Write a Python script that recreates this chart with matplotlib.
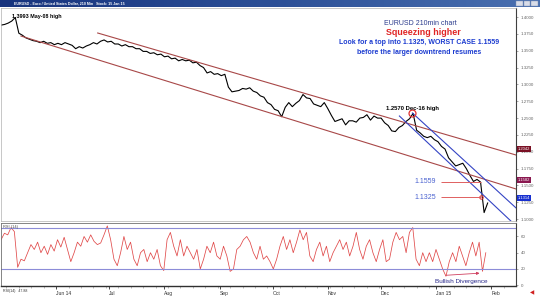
import numpy as np
import matplotlib.pyplot as plt
from matplotlib.colors import LinearSegmentedColormap

plt.rcParams['font.family'] = ['Liberation Sans', 'DejaVu Sans']

# EURUSD closes, one value every 2 calendar days from 1 May 2014
price_step = 2.0
price = [1.388, 1.389, 1.391, 1.394, 1.3993, 1.376, 1.373, 1.369, 1.367, 1.365,
         1.364, 1.362, 1.364, 1.361, 1.362, 1.359, 1.361, 1.359, 1.362, 1.360,
         1.358, 1.353, 1.356, 1.354, 1.357, 1.359, 1.362, 1.360, 1.364, 1.366,
         1.363, 1.364, 1.360, 1.360, 1.357, 1.359, 1.356, 1.356, 1.353, 1.353,
         1.349, 1.349, 1.346, 1.347, 1.344, 1.345, 1.341, 1.342, 1.338, 1.339,
         1.335, 1.337, 1.335, 1.336, 1.332, 1.333, 1.328, 1.325, 1.317, 1.319,
         1.315, 1.316, 1.313, 1.315, 1.296, 1.289, 1.290, 1.291, 1.294, 1.293,
         1.295, 1.290, 1.288, 1.283, 1.281, 1.273, 1.270, 1.263, 1.261, 1.252,
         1.266, 1.273, 1.267, 1.272, 1.276, 1.285, 1.280, 1.279, 1.271, 1.269,
         1.267, 1.273, 1.264, 1.254, 1.245, 1.247, 1.249, 1.240, 1.246, 1.246,
         1.244, 1.250, 1.251, 1.255, 1.247, 1.253, 1.250, 1.250, 1.243, 1.239,
         1.231, 1.230, 1.236, 1.239, 1.245, 1.249, 1.257, 1.232, 1.228, 1.223,
         1.221, 1.223, 1.218, 1.215, 1.208, 1.204, 1.191, 1.185, 1.179, 1.181,
         1.183, 1.175, 1.165, 1.156, 1.159, 1.155, 1.1098, 1.124]

# RSI(14), one value every ~1.87 days
rsi_step = 1.8695
rsi = [56, 64, 62, 71, 66, 22, 32, 30, 40, 50, 44, 53, 40, 48, 38, 50, 42, 56, 47, 59,
       44, 29, 40, 53, 48, 60, 53, 62, 54, 50, 52, 62, 73, 56, 32, 24, 40, 60, 44, 53,
       32, 24, 40, 44, 29, 40, 32, 44, 24, 18, 56, 65, 48, 36, 56, 36, 48, 40, 32, 44,
       20, 32, 48, 40, 53, 36, 32, 48, 36, 17, 20, 44, 48, 56, 60, 53, 40, 32, 48, 32,
       36, 29, 20, 32, 48, 60, 44, 56, 40, 53, 68, 56, 65, 36, 29, 44, 53, 36, 48, 29,
       40, 48, 56, 44, 53, 36, 48, 65, 44, 32, 48, 56, 40, 29, 44, 56, 29, 32, 53, 65,
       56, 60, 40, 65, 71, 32, 24, 40, 29, 40, 29, 44, 32, 20, 11, 29, 40, 29, 48, 36,
       24, 40, 53, 36, 53, 17, 40]

month_days = [31, 61, 92, 123, 153, 184, 214, 245, 276]
month_labels = ['Jun 14', 'Jul', 'Aug', 'Sep', 'Oct', 'Nov', 'Dec', 'Jan 15', 'Feb']
price_ticks = [1.4000, 1.3750, 1.3500, 1.3250, 1.3000, 1.2750, 1.2500,
               1.2250, 1.2000, 1.1750, 1.1500, 1.1250, 1.1000]
rsi_ticks = [0, 20, 40, 60]

# trendlines: (day, price) end points
upper_channel = [(54.4, 1.3763), (290, 1.1952)]
lower_channel = [(11.2, 1.3718), (290, 1.1448)]
blue_a = [(224.3, 1.2531), (290, 1.0900)]
blue_b = [(231.6, 1.2576), (290, 1.1166)]
dec_high = (231.6, 1.2570)
target_1 = 1.1559
target_2 = 1.1325
right_tags = [(1.2042, '#7a1024'), (1.1582, '#8a1850'), (1.1314, '#1830d0')]

x_price = np.arange(len(price)) * price_step
x_rsi = np.arange(len(rsi)) * rsi_step
x_max = 290

W, H = 540, 298
fig = plt.figure(figsize=(W / 100, H / 100), dpi=100)
fig.patch.set_facecolor('white')

# window title bar
bar = fig.add_axes([0, 1 - 7 / H, 1, 7 / H])
cmap = LinearSegmentedColormap.from_list('bar', ['#17337d', '#2c4f96', '#4a70b0'])
bar.imshow(np.linspace(0, 1, 256).reshape(1, -1), aspect='auto', cmap=cmap,
           extent=[0, 1, 0, 1])
bar.text(0.025, 0.5, 'EURUSD - Euro / United States Dollar, 210 Min   Stock: 15 Jan 15',
         color='white', fontsize=2.6, va='center', fontweight='bold')
for i in range(3):
    bar.add_patch(plt.Rectangle((0.956 + i * 0.014, 0.12), 0.012, 0.76,
                                facecolor='#d8dce8', edgecolor='#8090b0', lw=0.3))
bar.set_xlim(0, 1)
bar.set_ylim(0, 1)
bar.axis('off')

# main price panel
ax = fig.add_axes([0.002, 1 - 221 / H, 515 / W, 213 / H])
ax.plot(x_price, price, color='black', lw=0.8)
for line, c in [(upper_channel, '#a84848'), (lower_channel, '#a84848'),
                (blue_a, '#3444c4'), (blue_b, '#3444c4')]:
    ax.plot([line[0][0], line[1][0]], [line[0][1], line[1][1]], color=c, lw=0.8)

ax.plot(*dec_high, 'o', ms=5, mfc='none', mec='#e03030', mew=0.9)
ax.plot(270.5, target_2, 'o', ms=2.5, mfc='none', mec='#e03030', mew=0.7)
ax.hlines([target_1, target_2], 248, 270, color='#e06060', lw=0.7)
ax.text(245, target_1, '1.1559', color='#4a62d0', fontsize=5, ha='right', va='center')
ax.text(245, target_2, '1.1325', color='#4a62d0', fontsize=5, ha='right', va='center')
ax.text(dec_high[0], dec_high[1] + 0.004, '1.2570 Dec-16 high', fontsize=4.2,
        ha='center', va='bottom', fontweight='bold')
ax.text(6.0, 1.4015, '1.3993 May-08 high', fontsize=3.9, ha='left', va='center',
        fontweight='bold')

ax.text(0.814, 0.925, 'EURUSD 210min chart', transform=ax.transAxes, fontsize=5,
        color='#2a3a8c', ha='center', va='center')
ax.text(0.82, 0.883, 'Squeezing higher', transform=ax.transAxes, fontsize=6.4,
        color='#e02424', ha='center', va='center', fontweight='bold')
ax.text(0.812, 0.836, 'Look for a top into 1.1325, WORST CASE 1.1559',
        transform=ax.transAxes, fontsize=5, color='#1c3cd0', ha='center',
        va='center', fontweight='bold')
ax.text(0.812, 0.793, 'before the larger downtrend resumes', transform=ax.transAxes,
        fontsize=5, color='#1c3cd0', ha='center', va='center', fontweight='bold')

ax.set_xlim(0, x_max)
ax.set_ylim(1.0973, 1.4134)
ax.yaxis.tick_right()
ax.set_yticks(price_ticks)
ax.set_yticklabels([f'{t:.4f}' for t in price_ticks], fontsize=3.2, color='#555555')
ax.tick_params(axis='y', length=1.5, width=0.4, pad=2, colors='#666666')
ax.set_xticks([])
for tag_price, tag_color in right_tags:
    ax.text(1.003, (tag_price - 1.0973) / (1.4134 - 1.0973), f'{tag_price:.4f}',
            transform=ax.transAxes, fontsize=3, color='white', va='center',
            ha='left', bbox=dict(boxstyle='square,pad=0.25', fc=tag_color, ec='none'))
for side in ['top', 'left', 'bottom']:
    ax.spines[side].set_color('#b0b0b0')
    ax.spines[side].set_linewidth(0.5)
ax.spines['right'].set_color('#404040')
ax.spines['right'].set_linewidth(0.8)

# RSI panel
ax2 = fig.add_axes([0.002, 1 - 286 / H, 515 / W, 63 / H])
ax2.plot(x_rsi, rsi, color='#e04848', lw=0.55)
ax2.axhline(20, color='#8c8cd8', lw=0.8)
ax2.axhline(70, color='#8c8cd8', lw=0.8)
ax2.annotate('', xy=(271, 15), xytext=(249, 12),
             arrowprops=dict(arrowstyle='-|>', color='#d04060', lw=0.6,
                             mutation_scale=4))
ax2.text(259, 5, 'Bullish Divergence', fontsize=4.6, color='#28288a',
         ha='center', va='center')
ax2.text(0.003, 0.97, 'RSI (14)', transform=ax2.transAxes, fontsize=2.8,
         color='#444444', va='top')
ax2.set_xlim(0, x_max)
ax2.set_ylim(-1, 76.6)
ax2.yaxis.tick_right()
ax2.set_yticks(rsi_ticks)
ax2.set_yticklabels([str(t) for t in rsi_ticks], fontsize=3.2, color='#555555')
ax2.tick_params(axis='y', length=1.5, width=0.4, pad=2, colors='#666666')
ax2.set_xticks(month_days)
ax2.set_xticklabels(month_labels, fontsize=3.6, color='#333333', ha='left')
ax2.set_xticks(np.arange(3, x_max, 7), minor=True)
ax2.tick_params(axis='x', which='major', length=2, width=0.5, pad=1.5)
ax2.tick_params(axis='x', which='minor', length=1.2, width=0.4, color='#888888')
for side in ['top', 'left']:
    ax2.spines[side].set_color('#707070')
    ax2.spines[side].set_linewidth(0.6)
ax2.spines['bottom'].set_color('#303030')
ax2.spines['bottom'].set_linewidth(1.0)
ax2.spines['right'].set_color('#404040')
ax2.spines['right'].set_linewidth(0.8)
ax2.text(0.003, -0.04, 'RSI(14)   47.88', transform=ax2.transAxes, fontsize=2.6,
         color='#333333', va='top')

fig.text(0.99, 0.018, '\u25c0', color='#d02020', fontsize=4, ha='right', va='center')

fig.savefig('out.png', dpi=100)
